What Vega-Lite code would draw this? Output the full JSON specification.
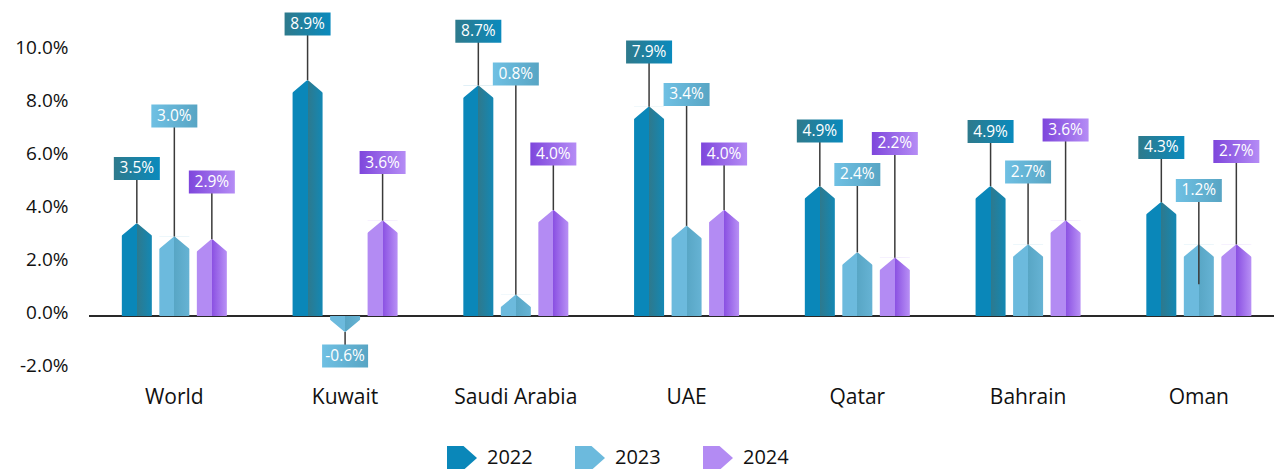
{
  "$schema": "https://vega.github.io/schema/vega-lite/v6.json",
  "autosize": "none",
  "width": 1185,
  "height": 318,
  "padding": {"left": 89, "top": 51, "right": 0, "bottom": 100},
  "background": "white",
  "config": {"font": "Open Sans", "view": {"stroke": null}},
  "data": {"values": [
    {"country": "World", "year": "2022", "value": 0.035, "bar": 0.035, "leader": 0.0557},
    {"country": "World", "year": "2023", "value": 0.030, "bar": 0.030, "leader": 0.0755},
    {"country": "World", "year": "2024", "value": 0.029, "bar": 0.029, "leader": 0.0506},
    {"country": "Kuwait", "year": "2022", "value": 0.089, "bar": 0.089, "leader": 0.1102},
    {"country": "Kuwait", "year": "2023", "value": -0.006, "bar": -0.006, "leader": -0.0151},
    {"country": "Kuwait", "year": "2024", "value": 0.036, "bar": 0.036, "leader": 0.0579},
    {"country": "Saudi Arabia", "year": "2022", "value": 0.087, "bar": 0.087, "leader": 0.1075},
    {"country": "Saudi Arabia", "year": "2023", "value": 0.008, "bar": 0.008, "leader": 0.0913},
    {"country": "Saudi Arabia", "year": "2024", "value": 0.040, "bar": 0.040, "leader": 0.0611},
    {"country": "UAE", "year": "2022", "value": 0.079, "bar": 0.079, "leader": 0.0996},
    {"country": "UAE", "year": "2023", "value": 0.034, "bar": 0.034, "leader": 0.0836},
    {"country": "UAE", "year": "2024", "value": 0.040, "bar": 0.040, "leader": 0.0611},
    {"country": "Qatar", "year": "2022", "value": 0.049, "bar": 0.049, "leader": 0.0698},
    {"country": "Qatar", "year": "2023", "value": 0.024, "bar": 0.024, "leader": 0.0534},
    {"country": "Qatar", "year": "2024", "value": 0.022, "bar": 0.022, "leader": 0.0651},
    {"country": "Bahrain", "year": "2022", "value": 0.049, "bar": 0.049, "leader": 0.0696},
    {"country": "Bahrain", "year": "2023", "value": 0.027, "bar": 0.027, "leader": 0.0543},
    {"country": "Bahrain", "year": "2024", "value": 0.036, "bar": 0.036, "leader": 0.0702},
    {"country": "Oman", "year": "2022", "value": 0.043, "bar": 0.043, "leader": 0.0636},
    {"country": "Oman", "year": "2023", "value": 0.012, "bar": 0.027, "leader": 0.0474},
    {"country": "Oman", "year": "2024", "value": 0.027, "bar": 0.027, "leader": 0.0621}
  ]},
  "encoding": {
    "x": {"field": "country", "type": "nominal", "sort": null,
      "scale": {"paddingInner": 0.341, "paddingOuter": 0.1405, "align": 0.606},
      "axis": {"title": null, "domain": false, "ticks": false, "labelAngle": 0, "labelFontSize": 21, "labelColor": "#111", "labelPadding": 17}},
    "xOffset": {"field": "year", "type": "nominal", "scale": {"paddingInner": 0, "paddingOuter": 0}},
    "y": {"field": "bar", "type": "quantitative",
      "scale": {"domain": [-0.02, 0.10], "nice": false, "zero": false},
      "axis": {"title": null, "format": ".1%", "labelExpr": "replace(datum.label, '\u2212', '-')", "values": [-0.02, 0, 0.02, 0.04, 0.06, 0.08, 0.10], "grid": false, "domain": false, "ticks": false, "labelFontSize": 19, "labelColor": "#111", "labelPadding": 21, "labelOffset": -3.5}}
  },
  "layer": [
    {"mark": {"type": "rule", "color": "#2a2a2a", "strokeWidth": 1.5}, "encoding": {"x": null, "xOffset": null, "y": {"datum": 0}}},
    {"mark": {"type": "point", "filled": true, "opacity": 0, "size": 10},
     "encoding": {"fill": {"field": "year", "type": "nominal",
       "scale": {"domain": ["2022", "2023", "2024"], "range": ["#0A87B9", "#6CBADD", "#B38BF3"]},
       "legend": {"title": null, "orient": "none", "legendX": 358, "legendY": 392, "direction": "horizontal",
         "symbolType": "M-1,-0.8L0.1,-0.8L1,0L0.1,0.8L-1,0.8Z", "symbolSize": 900, "symbolStrokeWidth": 0, "symbolOpacity": 1,
         "labelFontSize": 20, "labelColor": "#111", "labelOffset": 10, "columnPadding": 42, "padding": 0,
         "encode": {"symbols": {"update": {"fill": [
           {"test": "datum.value === '2022'", "value": {"gradient": "linear", "x1": 0, "y1": 0, "x2": 0, "y2": 1, "stops": [{"offset": 0, "color": "#0A87B9"}, {"offset": 0.5, "color": "#0A87B9"}, {"offset": 0.5, "color": "#2E798D"}, {"offset": 1, "color": "#2E798D"}]}},
           {"test": "datum.value === '2023'", "value": {"gradient": "linear", "x1": 0, "y1": 0, "x2": 0, "y2": 1, "stops": [{"offset": 0, "color": "#6CBADD"}, {"offset": 0.5, "color": "#6CBADD"}, {"offset": 0.5, "color": "#58A6C5"}, {"offset": 1, "color": "#58A6C5"}]}},
           {"value": {"gradient": "linear", "x1": 0, "y1": 0, "x2": 0, "y2": 1, "stops": [{"offset": 0, "color": "#B38BF3"}, {"offset": 0.5, "color": "#B38BF3"}, {"offset": 0.5, "color": "#8A50E2"}, {"offset": 1, "color": "#8A50E2"}]}}
         ], "opacity": {"value": 1}}}}}}}},
    {"mark": {"type": "bar", "width": 30},
     "encoding": {"fill": {"condition": [
       {"test": "datum.year === '2022'", "value": {"gradient": "linear", "x1": 0, "y1": 0, "x2": 1, "y2": 0, "stops": [{"offset": 0, "color": "#0A87B9"}, {"offset": 0.5, "color": "#0A87B9"}, {"offset": 0.5, "color": "#2E798D"}, {"offset": 1, "color": "#1388B4"}]}},
       {"test": "datum.year === '2023'", "value": {"gradient": "linear", "x1": 0, "y1": 0, "x2": 1, "y2": 0, "stops": [{"offset": 0, "color": "#6CBADD"}, {"offset": 0.5, "color": "#6CBADD"}, {"offset": 0.5, "color": "#58A6C5"}, {"offset": 1, "color": "#66B3D4"}]}}],
       "value": {"gradient": "linear", "x1": 0, "y1": 0, "x2": 1, "y2": 0, "stops": [{"offset": 0, "color": "#B38BF3"}, {"offset": 0.5, "color": "#B38BF3"}, {"offset": 0.5, "color": "#8A50E2"}, {"offset": 1, "color": "#B890F5"}]}}}},
    {"mark": {"type": "point", "filled": true, "opacity": 1, "size": 900, "strokeWidth": 0, "color": "white"},
     "encoding": {
       "shape": {"condition": {"test": "datum.bar < 0", "value": "M-1.06,0.02L0,0.02L-1.06,-0.867ZM1.06,0.02L0,0.02L1.06,-0.867Z"}, "value": "M-1.06,-0.02L0,-0.02L-1.06,0.867ZM1.06,-0.02L0,-0.02L1.06,0.867Z"}}},
    {"mark": {"type": "rule", "color": "#3a3a3a", "strokeWidth": 1.5},
     "encoding": {"y": {"field": "leader", "type": "quantitative"}, "y2": {"field": "value"}}},
    {"mark": {"type": "point", "filled": true, "opacity": 1, "size": 2116, "strokeWidth": 0, "shape": "M-1,-0.5L1,-0.5L1,0.5L-1,0.5Z"},
     "encoding": {
       "y": {"field": "leader", "type": "quantitative"},
       "fill": {"condition": [
         {"test": "datum.year === '2022'", "value": {"gradient": "linear", "x1": 0, "y1": 0, "x2": 1, "y2": 0, "stops": [{"offset": 0, "color": "#2E7A8C"}, {"offset": 1, "color": "#0A8ABD"}]}},
         {"test": "datum.year === '2023'", "value": {"gradient": "linear", "x1": 0, "y1": 0, "x2": 1, "y2": 0, "stops": [{"offset": 0, "color": "#6FC0E3"}, {"offset": 1, "color": "#58A5C4"}]}}],
         "value": {"gradient": "linear", "x1": 0, "y1": 0, "x2": 1, "y2": 0, "stops": [{"offset": 0, "color": "#7E46DC"}, {"offset": 1, "color": "#B58CF5"}]}}}},
    {"mark": {"type": "text", "color": "white", "fontSize": 15.5, "baseline": "middle", "align": "center"},
     "encoding": {
       "y": {"field": "leader", "type": "quantitative"},
       "text": {"value": {"expr": "replace(format(datum.value, '.1%'), '\u2212', '-')"}}}}
  ]
}
